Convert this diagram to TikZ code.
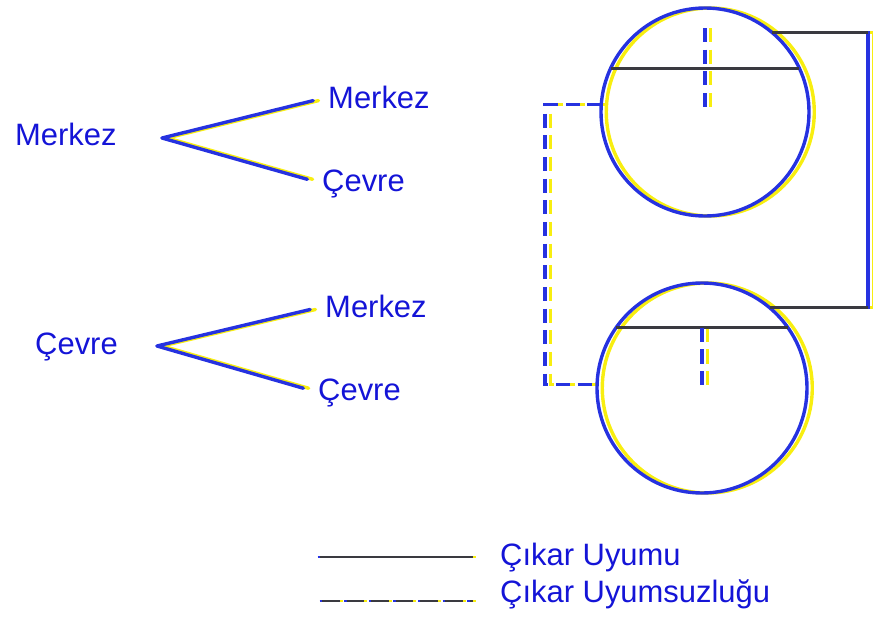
\documentclass[tikz,border=0pt]{standalone}
\usepackage{fontspec}
\setmainfont{Liberation Sans}
\usepackage{tikz}
\usetikzlibrary{calc, backgrounds}
\definecolor{txtblue}{HTML}{1414D7}
\definecolor{lnblue}{HTML}{2632E0}
\definecolor{lnyellow}{HTML}{F8EE10}
\definecolor{lndark}{HTML}{3A3A40}

\begin{document}
\begin{tikzpicture}[
    x=0.03cm, y=-0.03cm,
    lbl/.style={font=\fontsize{26.4}{30}\selectfont, text=txtblue, inner sep=0pt, anchor=base west},
    bline/.style={draw=lnblue, line width=2.9pt},
    yline/.style={draw=lnyellow, line width=2.9pt, transform canvas={xshift=4.5pt}},
    kline/.style={draw=lndark, line width=2.5pt},
    brk/.style={dash pattern=on 12pt off 6.5pt},
    country/.style={circle, draw=lnblue, line width=2.9pt, outer sep=0pt}
]
\useasboundingbox (0,0) rectangle (873,617);

% tree 1
\node[lbl] (merkez) at (15,145) {Merkez};
\node[lbl] (merkezM) at (328,108) {Merkez};
\node[lbl] (merkezC) at (322,191) {Çevre};
\coordinate (mfork) at (162,138);

% tree 2
\node[lbl] (cevre) at (35,354) {Çevre};
\node[lbl] (cevreM) at (325,317) {Merkez};
\node[lbl] (cevreC) at (318,400) {Çevre};
\coordinate (cfork) at (157,346);

\begin{scope}[on background layer]
    \draw[yline, line cap=round, shorten >=13pt] (mfork) -- (merkezM.west);
    \draw[yline, line cap=round, shorten >=13pt] (mfork) -- (merkezC.west);
    \draw[yline, line cap=round, shorten >=13pt] (cfork) -- (cevreM.west);
    \draw[yline, line cap=round, shorten >=13pt] (cfork) -- (cevreC.west);
\end{scope}
\draw[bline, line cap=round, shorten >=13pt] (mfork) -- (merkezM.west);
\draw[bline, line cap=round, shorten >=13pt] (mfork) -- (merkezC.west);
\draw[bline, line cap=round, shorten >=13pt] (cfork) -- (cevreM.west);
\draw[bline, line cap=round, shorten >=13pt] (cfork) -- (cevreC.west);

% the two circles
\node[country, minimum size=6.24cm] (upper) at (705,112) {};
\node[country, minimum size=6.3cm] (lower) at (702,388) {};
\coordinate (rrail) at (868,170);
\coordinate (lrail) at (545,250);

\begin{scope}[on background layer]
    \draw[yline] (upper.center) circle[radius=3.12cm];
    \draw[yline] (lower.center) circle[radius=3.15cm];
    \draw[yline, brk] ($(upper.center)+(0,-84)$) -- ($(upper.center)+(0,-5)$);
    \draw[yline, brk] ($(lower.145)!.5!(lower.35)$) -- (lower.center);
    \draw[yline, brk] (upper.176) -| (lrail) |- (lower.178);
    \draw[yline] (upper.50) -| (rrail) |- (lower.50);
\end{scope}

% chords
\draw[kline] (upper.155) -- (upper.25);
\draw[kline] (lower.145) -- (lower.35);
\draw[bline, brk] ($(upper.center)+(0,-84)$) -- ($(upper.center)+(0,-5)$);
\draw[bline, brk] ($(lower.145)!.5!(lower.35)$) -- (lower.center);

% links between circles
\draw[bline] (upper.50) -| (rrail) |- (lower.50);
\draw[kline] (upper.50) -- (upper.50 -| rrail);
\draw[kline] (lower.50) -- (lower.50 -| rrail);
\draw[bline, brk] (upper.176) -| (lrail) |- (lower.178);

% legend
\node[lbl] (uyum) at (500,565) {Çıkar Uyumu};
\node[lbl] (uyumsuz) at (500,602) {Çıkar Uyumsuzluğu};
\coordinate (solidL) at (320,557);
\coordinate (solidR) at (473,557);
\coordinate (dashL) at (322,601);
\coordinate (dashR) at (473,601);

\draw[draw=lnblue, line width=2.5pt, transform canvas={xshift=-2pt}] (solidL) -- (solidR);
\draw[draw=lnyellow, line width=2.5pt, transform canvas={xshift=2.5pt}] (solidL) -- (solidR);
\draw[kline] (solidL) -- (solidR);
\draw[draw=lnblue, line width=2.5pt, dash pattern=on 15pt off 6pt, transform canvas={xshift=-2pt}] (dashL) -- (dashR);
\draw[draw=lnyellow, line width=2.5pt, dash pattern=on 15pt off 6pt, transform canvas={xshift=2.5pt}] (dashL) -- (dashR);
\draw[kline, dash pattern=on 15pt off 6pt] (dashL) -- (dashR);

\end{tikzpicture}
\end{document}
